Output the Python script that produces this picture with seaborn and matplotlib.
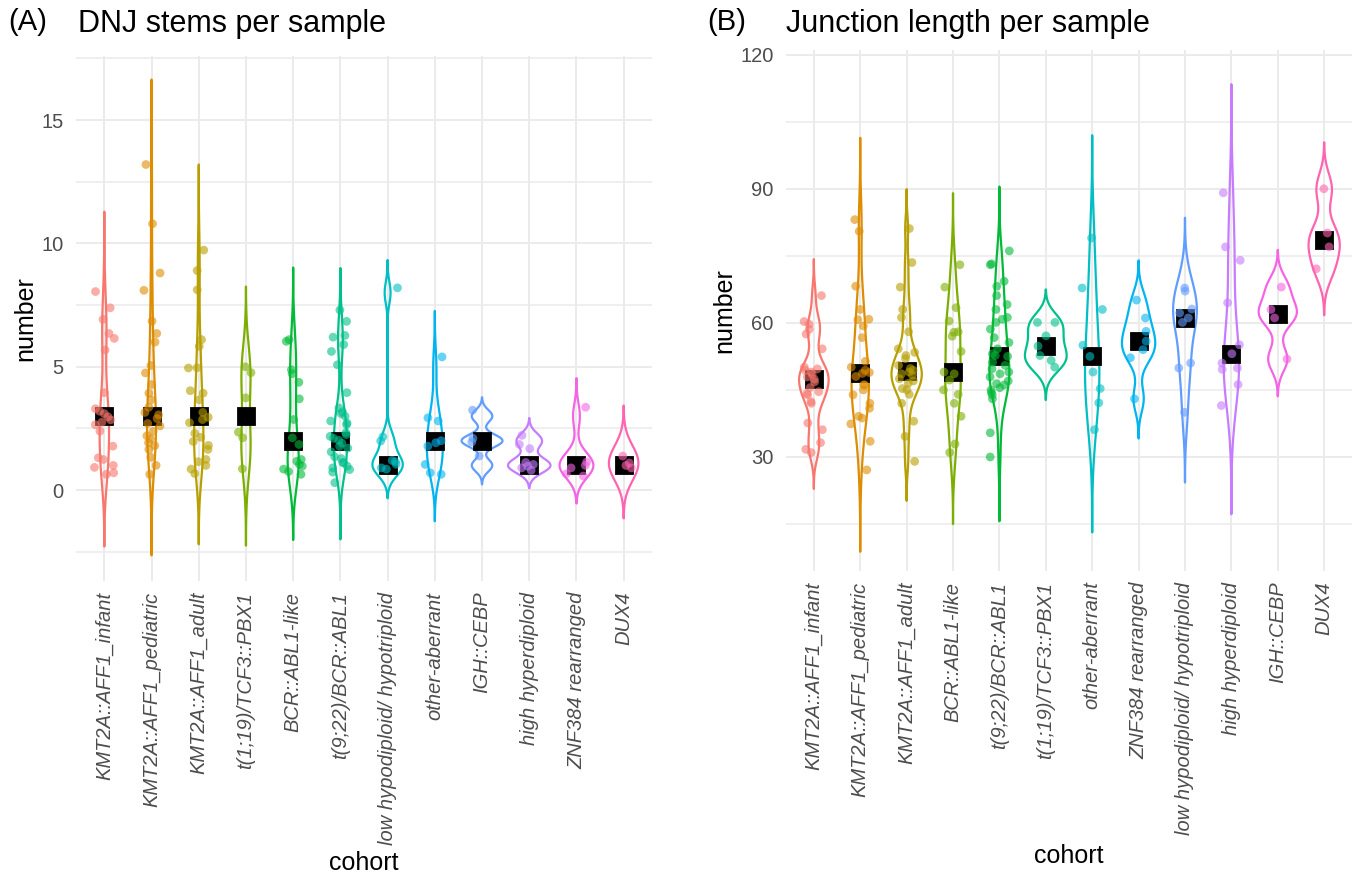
import numpy as np
import pandas as pd
import matplotlib
matplotlib.use("Agg")
import matplotlib.pyplot as plt
import seaborn as sns
from matplotlib.ticker import MultipleLocator, FixedLocator

# ---------------- data ----------------
# Panel A: DNJ stems per sample (point positions as drawn, jittered counts)
cohorts_a = ["KMT2A::AFF1_infant", "KMT2A::AFF1_pediatric", "KMT2A::AFF1_adult",
             "t(1;19)/TCF3::PBX1", "BCR::ABL1-like", "t(9;22)/BCR::ABL1",
             "low hypodiploid/ hypotriploid", "other-aberrant", "IGH::CEBP",
             "high hyperdiploid", "ZNF384 rearranged", "DUX4"]

dnj_infant = [8.05, 7.39, 6.92, 6.35, 6.15, 5.68, 3.95, 3.3, 3.2, 3.1, 2.97, 2.85,
              2.75, 2.65, 2.39, 1.78, 1.31, 1.24, 1.0, 0.92, 0.64, 0.7]
dnj_pediatric = [13.2, 10.8, 8.8, 8.1, 6.85, 6.35, 6.0, 5.05, 4.75, 4.28, 3.93, 3.66,
                 3.36, 3.05, 2.9, 2.7, 2.38, 2.2, 2.08, 1.92, 1.8, 1.65, 1.33, 1.0,
                 0.64, 2.6, 3.15]
dnj_adult = [9.73, 8.9, 8.12, 6.1, 5.83, 4.96, 4.95, 4.03, 3.93, 3.66, 3.15, 2.95,
             2.86, 2.73, 2.3, 2.14, 1.97, 1.81, 1.65, 1.24, 1.15, 1.0, 0.85, 0.67]
dnj_t119 = [5.0, 4.76, 3.74, 2.35, 2.12, 0.86]
dnj_bcr_like = [6.1, 6.03, 4.88, 4.72, 4.37, 3.7, 2.86, 2.12, 1.85, 1.24, 1.17, 1.04,
                0.97, 0.85, 0.64, 0.75]
dnj_t922 = [7.3, 6.84, 6.27, 6.2, 5.9, 5.62, 5.08, 3.95, 3.33, 3.17, 2.99, 2.72,
            2.33, 2.18, 2.02, 1.78, 1.55, 1.28, 1.12, 0.97, 0.83, 0.73, 0.3,
            1.1, 0.9, 1.35, 1.9, 2.1, 2.25, 1.7, 2.8, 3.1, 2.65]
dnj_low_hypo = [8.2, 2.16, 1.99, 1.15, 1.05, 0.9, 0.85, 1.2]
dnj_other = [5.4, 2.93, 2.8, 2.0, 1.92, 1.78, 1.04, 0.7, 0.64]
dnj_igh = [3.24, 1.95, 1.38, 2.1]
dnj_high_hyper = [2.22, 1.85, 1.68, 1.04, 0.97, 0.9, 1.12, 0.8]
dnj_znf = [3.36, 1.14, 0.9, 0.66, 0.57, 1.0]
dnj_dux4 = [1.38, 1.1, 0.9, 1.0]

dnj_values = [dnj_infant, dnj_pediatric, dnj_adult, dnj_t119, dnj_bcr_like, dnj_t922,
              dnj_low_hypo, dnj_other, dnj_igh, dnj_high_hyper, dnj_znf, dnj_dux4]

# Panel B: junction length per sample
cohorts_b = ["KMT2A::AFF1_infant", "KMT2A::AFF1_pediatric", "KMT2A::AFF1_adult",
             "BCR::ABL1-like", "t(9;22)/BCR::ABL1", "t(1;19)/TCF3::PBX1",
             "other-aberrant", "ZNF384 rearranged", "low hypodiploid/ hypotriploid",
             "high hyperdiploid", "IGH::CEBP", "DUX4"]

jl_infant = [66.1, 60.3, 59.7, 58.6, 57.5, 54.2, 50.1, 49.7, 49.4, 49.0, 48.5, 47.9,
             47.4, 46.8, 45.5, 44.6, 44.2, 43.9, 42.4, 42.0, 37.6, 36.1, 33.2, 31.7, 31.0]
jl_pediatric = [83.1, 80.5, 68.2, 63.0, 60.8, 60.7, 59.3, 56.7, 51.4, 50.1, 49.4, 48.9,
                48.7, 48.0, 46.1, 46.1, 45.0, 43.9, 42.0, 40.9, 39.1, 38.7, 37.4, 33.5, 27.1]
jl_adult = [81.1, 73.5, 68.0, 63.0, 61.2, 58.0, 54.2, 53.4, 52.7, 52.0, 50.5, 49.8,
            49.4, 49.0, 48.6, 48.3, 47.5, 47.0, 46.5, 45.3, 45.0, 44.0, 42.0, 38.0, 34.6, 29.0]
jl_bcr_like = [73.0, 68.0, 63.4, 60.4, 58.0, 57.9, 57.0, 53.6, 49.0, 48.6, 47.2, 45.0,
               44.0, 42.0, 39.1, 32.9, 31.0]
jl_t922 = [76.1, 73.2, 73.0, 69.3, 68.2, 66.1, 64.1, 63.0, 61.2, 60.8, 60.1, 58.6, 56.7,
           55.6, 54.2, 53.1, 52.7, 52.5, 51.2, 50.5, 49.7, 49.0, 48.6, 47.9, 47.0, 46.4,
           46.1, 45.5, 45.0, 44.4, 43.9, 43.0, 35.4, 30.0]
jl_t119 = [60.1, 60.1, 57.1, 54.8, 52.7, 51.6, 50.1]
jl_other = [79.0, 67.8, 63.0, 55.0, 52.5, 49.0, 45.3, 42.1, 36.1]
jl_znf = [65.1, 61.1, 58.1, 55.9, 54.0, 52.2, 43.0]
jl_low_hypo = [67.8, 67.1, 63.1, 62.2, 61.1, 60.1, 51.0, 49.9, 40.0]
jl_high_hyper = [89.1, 77.0, 74.0, 64.5, 55.1, 53.1, 51.0, 49.9, 49.6, 46.2, 41.5]
jl_igh = [68.0, 63.0, 61.1, 51.9]
jl_dux4 = [90.0, 80.1, 77.0, 72.1]

jl_values = [jl_infant, jl_pediatric, jl_adult, jl_bcr_like, jl_t922, jl_t119,
             jl_other, jl_znf, jl_low_hypo, jl_high_hyper, jl_igh, jl_dux4]

yticks_a = [0, 5, 10, 15]
yticks_b = [30, 60, 90, 120]

# ggplot2 default hue palette for 12 levels
palette12 = ["#F8766D", "#DE8C00", "#B79F00", "#7CAE00", "#00BA38", "#00C08B",
             "#00BFC4", "#00B4F0", "#619CFF", "#C77CFF", "#F564E3", "#FF64B0"]


# ---------------- helpers (R's bw.nrd0) ----------------
def nrd0(x):
    x = np.asarray(x, float)
    hi = np.std(x, ddof=1)
    q75, q25 = np.percentile(x, [75, 25])
    lo = min(hi, (q75 - q25) / 1.34)
    if not lo:
        lo = hi or abs(x[0]) or 1.0
    return 0.9 * lo * len(x) ** (-0.2)


def bw_counts(kde):
    d = kde.dataset.ravel()
    return nrd0(np.round(d)) / np.std(d, ddof=1)


def bw_plain(kde):
    d = kde.dataset.ravel()
    return nrd0(d) / np.std(d, ddof=1)


def long_df(cats, vals):
    return pd.DataFrame({"cohort": np.repeat(cats, [len(v) for v in vals]),
                         "value": np.concatenate([np.asarray(v, float) for v in vals])})


pts_a = long_df(cohorts_a, dnj_values)
counts_a = long_df(cohorts_a, [np.round(v) for v in dnj_values])
viol_a = long_df(cohorts_a, [np.round(v) if np.ptp(np.round(v)) > 0 else np.asarray(v)
                             for v in dnj_values])
pts_b = long_df(cohorts_b, jl_values)

# ---------------- figure ----------------
sns.set_theme(style="white")
plt.rcParams["font.family"] = ["Liberation Sans", "DejaVu Sans"]

W, H = 1356, 875
fig = plt.figure(figsize=(W / 100, H / 100), dpi=100)
ax_a = fig.add_axes([76 / W, 1 - 580.6 / H, (652 - 76) / W, (580.6 - 56) / H])
ax_b = fig.add_axes([786 / W, 1 - 570.5 / H, (1352 - 786) / W, (570.5 - 50.2) / H])

np.random.seed(7)


def draw(ax, cats, viol_df, pts_df, med_df, bwfun, ylim, yticks, minor, xpad):
    ax.set_axisbelow(True)
    sns.violinplot(data=viol_df, x="cohort", y="value", hue="cohort", order=cats,
                   hue_order=cats, palette=palette12, saturation=1, fill=False,
                   inner=None, cut=3, gridsize=512, bw_method=bwfun,
                   density_norm="area", common_norm=True, width=0.9, linewidth=1.6,
                   legend=False, ax=ax)
    sns.pointplot(data=med_df, x="cohort", y="value", order=cats, estimator="median",
                  errorbar=None, linestyle="none", marker="s", markersize=11.5,
                  color="black", ax=ax, zorder=3)
    sns.stripplot(data=pts_df, x="cohort", y="value", hue="cohort", order=cats,
                  hue_order=cats, palette=palette12, jitter=0.22, size=6.3,
                  alpha=0.6, linewidth=0, legend=False, ax=ax, zorder=4)
    ax.set_xlim(-0.6, len(cats) - 0.4)
    ax.set_ylim(*ylim)
    ax.yaxis.set_major_locator(FixedLocator(yticks))
    ax.yaxis.set_minor_locator(MultipleLocator(minor))
    ax.grid(True, which="major", color="#EBEBEB", linewidth=1.4)
    ax.grid(True, which="minor", axis="y", color="#EBEBEB", linewidth=1.1)
    for s in ax.spines.values():
        s.set_visible(False)
    ax.tick_params(axis="both", which="both", length=0)
    ax.tick_params(axis="x", labelrotation=90, pad=8, labelsize=14.5, labelcolor="#4D4D4D")
    ax.tick_params(axis="y", pad=9, labelsize=14.5, labelcolor="#4D4D4D")
    for lab in ax.get_xticklabels():
        lab.set_fontstyle("italic")
        lab.set_ha("center")
        lab.set_va("top")
    ax.set_xlabel("cohort", fontsize=18, color="black", labelpad=xpad)
    ax.set_ylabel("number", fontsize=18, color="black", labelpad=3)


draw(ax_a, cohorts_a, viol_a, pts_a, counts_a, bw_counts, (-3.67, 17.6), yticks_a, 2.5, 4.5)
draw(ax_b, cohorts_b, pts_b, pts_b, pts_b, bw_plain, (4.6, 121.0), yticks_b, 15, 7.0)

fig.text(8 / W, 1 - 22 / H, "(A)", fontsize=21, va="center", ha="left", color="black")
fig.text(78 / W, 1 - 24 / H, "DNJ stems per sample", fontsize=22, va="center",
         ha="left", color="black")
fig.text(707 / W, 1 - 22 / H, "(B)", fontsize=21, va="center", ha="left", color="black")
fig.text(786 / W, 1 - 24 / H, "Junction length per sample", fontsize=22, va="center",
         ha="left", color="black")

fig.savefig("out.png", dpi=100, facecolor="white")
